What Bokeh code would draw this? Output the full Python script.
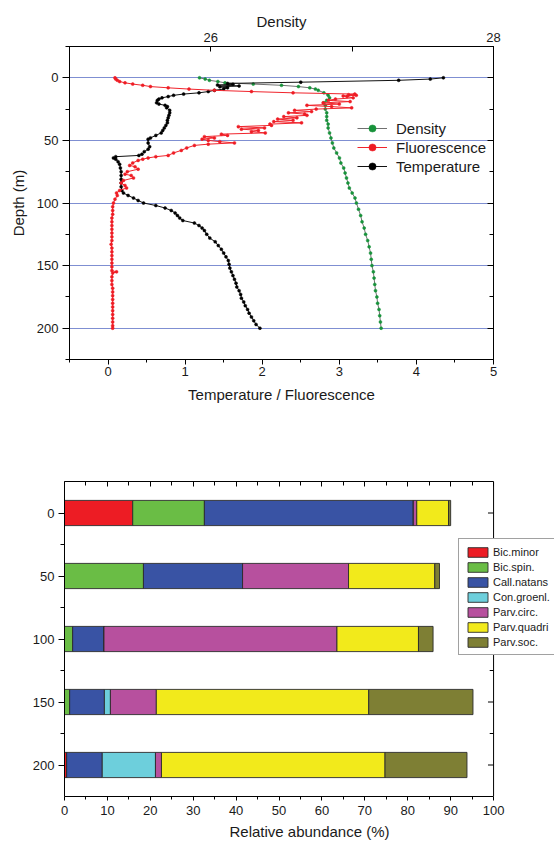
from bokeh.plotting import figure
from bokeh.models import (Range1d, LinearAxis, FixedTicker, Legend, LegendItem, Span,
                          CustomJSTickFormatter, ColumnDataSource)
from bokeh.layouts import column
from bokeh.embed import file_html
from bokeh.resources import INLINE

FONT = "Liberation Sans"
TXT = "#1a1a1a"

# ---------------- top panel data (depth in m) ----------------
dens_depth = [0, 1, 2, 3, 4, 5, 6, 7, 8, 9, 10, 12, 14, 16, 18, 20, 22, 25, 28, 31, 34, 37, 40,
              44, 48, 52, 56, 60, 64, 68, 72, 76, 80, 84, 88, 92, 96, 100, 105, 110, 115, 120,
              125, 130, 135, 140, 145, 150, 155, 160, 165, 170, 175, 180, 185, 190, 195, 200]
dens_val = [25.92, 25.96, 25.99, 26.05, 26.10, 26.30, 26.50, 26.62, 26.70, 26.74, 26.76, 26.80,
            26.83, 26.84, 26.82, 26.80, 26.81, 26.81, 26.82, 26.82, 26.82, 26.83, 26.83,
            26.84, 26.85, 26.86, 26.87, 26.89, 26.91, 26.92, 26.94, 26.95, 26.96, 26.97, 26.98,
            27.00, 27.02, 27.03, 27.045, 27.06, 27.07, 27.085, 27.095, 27.11, 27.12, 27.13,
            27.135, 27.14, 27.15, 27.155, 27.16, 27.165, 27.175, 27.18, 27.19, 27.195, 27.20, 27.205]

temp_depth = [0, 1, 2, 3.5, 4.5, 5.2, 5.8, 6.5, 7.2, 8, 9, 10, 11, 12, 13, 14, 15, 16, 17, 18, 20,
              21, 22, 23, 24, 26, 28, 30, 32, 34, 36, 38, 40, 42, 44, 46, 48, 49, 52, 55, 57, 59,
              61, 62, 63, 64, 65, 67, 69, 72, 75, 78, 81, 84, 87, 90, 92, 94, 96, 98, 100, 102,
              104, 106, 108, 110, 112, 114, 116, 118, 120, 122, 125, 128, 131, 134, 137, 140,
              143, 146, 149, 152, 155, 158, 161, 164, 167, 170, 173, 176, 179, 182, 185, 188,
              191, 194, 197, 200]
temp_val = [4.35, 4.18, 3.77, 2.50, 1.55, 1.62, 1.42, 1.70, 1.45, 1.55, 1.50, 1.38, 1.30, 1.18,
            0.98, 0.85, 0.78, 0.70, 0.66, 0.64, 0.63, 0.66, 0.74, 0.77, 0.76, 0.80, 0.80, 0.79,
            0.78, 0.77, 0.77, 0.75, 0.73, 0.71, 0.69, 0.62, 0.55, 0.52, 0.52, 0.54, 0.52, 0.47,
            0.44, 0.40, 0.10, 0.07, 0.10, 0.13, 0.15, 0.16, 0.17, 0.17, 0.17, 0.17, 0.17, 0.18,
            0.20, 0.26, 0.33, 0.39, 0.46, 0.62, 0.74, 0.82, 0.87, 0.90, 0.93, 0.97, 1.12, 1.18,
            1.22, 1.25, 1.28, 1.32, 1.39, 1.43, 1.47, 1.50, 1.53, 1.56, 1.57, 1.58, 1.60, 1.62,
            1.64, 1.66, 1.67, 1.70, 1.72, 1.73, 1.76, 1.78, 1.81, 1.83, 1.86, 1.89, 1.92, 1.97]

fluo_depth = [0, 1, 2, 3, 4, 5, 6, 7, 8, 9, 10, 11, 12, 13, 13.5, 14, 14.5, 15, 16, 17, 18, 19,
              20, 21, 22, 23, 24, 25, 26, 27, 28, 29, 30, 31, 32, 33, 34, 35, 36, 37, 38, 39, 40,
              41, 42, 43, 44, 45, 46, 47, 48, 49, 50, 51, 52, 53, 54, 56, 58, 60, 62, 63, 64, 65,
              66, 68, 70, 71, 73, 75, 77, 78, 80, 82, 84, 86, 88, 90, 92, 94, 97, 100, 103, 106,
              109, 112, 115, 118, 121, 124, 127, 130, 133, 136, 139, 142, 145, 148, 151, 154,
              155, 156, 159, 162, 165, 168, 171, 174, 177, 180, 183, 186, 189, 192, 195, 198, 200]
fluo_val = [0.09, 0.10, 0.12, 0.15, 0.22, 0.32, 0.45, 0.55, 0.78, 1.05, 1.38, 1.86, 2.40, 3.20,
            3.12, 3.22, 3.05, 3.10, 3.18, 2.95, 2.86, 3.14, 2.79, 3.00, 2.58, 2.90, 3.16, 2.70,
            2.42, 2.64, 2.34, 2.55, 2.58, 2.28, 2.45, 2.20, 2.40, 2.15, 2.51, 2.10, 2.12, 1.69,
            2.03, 1.73, 1.95, 1.86, 2.04, 1.47, 1.55, 1.25, 1.38, 1.22, 1.30, 1.45, 1.64, 1.30,
            1.12, 1.02, 0.95, 0.85, 0.78, 0.62, 0.52, 0.45, 0.39, 0.32, 0.28, 0.35, 0.39, 0.25,
            0.22, 0.30, 0.33, 0.20, 0.17, 0.22, 0.24, 0.15, 0.11, 0.12, 0.09, 0.07, 0.06, 0.06,
            0.06, 0.05, 0.05, 0.05, 0.05, 0.05, 0.05, 0.05, 0.04, 0.05, 0.05, 0.05, 0.05, 0.05,
            0.05, 0.05, 0.11, 0.06, 0.05, 0.05, 0.05, 0.06, 0.06, 0.06, 0.06, 0.06, 0.06, 0.06,
            0.06, 0.06, 0.06, 0.06, 0.06]

depth_ticks = [0, 50, 100, 150, 200]
depth_minor = [-25, 25, 75, 125, 175, 225]
tf_ticks = [0, 1, 2, 3, 4, 5]
tf_minor = [-0.5, 0.5, 1.5, 2.5, 3.5, 4.5]
dens_ticks = [26, 28]
dens_minor = [25, 27]

# ---------------- bottom panel data ----------------
sample_depth = [0, 50, 100, 150, 200]
species = ["Bic.minor", "Bic.spin.", "Call.natans", "Con.groenl.", "Parv.circ.",
           "Parv.quadri", "Parv.soc."]
bic_minor = [15.9, 0.0, 0.0, 0.0, 0.5]
bic_spin = [16.7, 18.4, 1.9, 1.2, 0.0]
call_natans = [48.7, 23.1, 7.3, 8.1, 8.3]
con_groenl = [0.0, 0.0, 0.0, 1.4, 12.4]
parv_circ = [0.8, 24.7, 54.3, 10.7, 1.4]
parv_quadri = [7.4, 20.1, 19.0, 49.5, 52.1]
parv_soc = [0.5, 1.1, 3.4, 24.3, 19.1]
sp_colors = ["#ed1c24", "#6abd45", "#3953a4", "#6dcfdc", "#b7509e", "#f2ea1b", "#7e7f34"]
abund_ticks = [0, 10, 20, 30, 40, 50, 60, 70, 80, 90, 100]
abund_minor = [5, 15, 25, 35, 45, 55, 65, 75, 85, 95]
abund_max = 100


def style_axis(ax, tick_in=0, tick_out=5, minor_in=0, minor_out=3):
    ax.axis_line_color = "black"
    ax.axis_line_width = 1
    ax.major_tick_line_color = "black"
    ax.minor_tick_line_color = "black"
    ax.major_tick_in = tick_in
    ax.major_tick_out = tick_out
    ax.minor_tick_in = minor_in
    ax.minor_tick_out = minor_out
    ax.major_label_text_font = FONT
    ax.major_label_text_font_size = "13px"
    ax.major_label_text_color = TXT
    ax.axis_label_text_font = FONT
    ax.axis_label_text_font_size = "15px"
    ax.axis_label_text_font_style = "normal"
    ax.axis_label_text_color = TXT


blank = CustomJSTickFormatter(code="return ''")

# ================= TOP FIGURE =================
p1 = figure(width=554, height=410, x_range=Range1d(-0.5, 5), y_range=Range1d(225, -25),
            output_backend="svg", toolbar_location=None,
            min_border_left=69, min_border_right=61, min_border_top=46, min_border_bottom=51)
p1.frame_align = False
p1.extra_x_ranges = {"dens": Range1d(25, 28)}
p1.outline_line_color = "black"
p1.background_fill_color = "white"
p1.border_fill_color = "white"

p1.xaxis.axis_label = "Temperature / Fluorescence"
p1.xaxis.ticker = FixedTicker(ticks=tf_ticks, minor_ticks=tf_minor)
style_axis(p1.xaxis[0], 0, 5, 0, 3)
p1.xaxis.major_label_standoff = 2
p1.xaxis.axis_label_standoff = 7

p1.yaxis.axis_label = "Depth (m)"
p1.yaxis.ticker = FixedTicker(ticks=depth_ticks, minor_ticks=depth_minor)
style_axis(p1.yaxis[0], 0, 7, 0, 4)
p1.yaxis.major_label_standoff = 4
p1.yaxis.axis_label_standoff = 7

top_ax = LinearAxis(x_range_name="dens", axis_label="Density",
                    ticker=FixedTicker(ticks=dens_ticks, minor_ticks=dens_minor))
style_axis(top_ax, 5, 0, 5, 0)
top_ax.major_label_standoff = 5
top_ax.axis_label_standoff = 0
p1.add_layout(top_ax, "above")

right_ax = LinearAxis(ticker=FixedTicker(ticks=depth_ticks, minor_ticks=depth_minor),
                      formatter=blank)
style_axis(right_ax, 6, 0, 4, 0)
right_ax.major_label_standoff = 0
p1.add_layout(right_ax, "right")

p1.xgrid.visible = False
p1.ygrid.ticker = FixedTicker(ticks=depth_ticks)
p1.ygrid.grid_line_color = "#7f8fd2"
p1.ygrid.grid_line_width = 1

dl = p1.line(dens_val, dens_depth, x_range_name="dens", line_color="#707070", line_width=1)
ds = p1.scatter(dens_val, dens_depth, x_range_name="dens", size=3, marker="circle",
                fill_color="#17923a", line_color="#17923a", line_width=0.5)
tl = p1.line(temp_val, temp_depth, line_color="#111111", line_width=1)
ts = p1.scatter(temp_val, temp_depth, size=3, marker="circle",
                fill_color="#000000", line_color="#000000", line_width=0.5)
fl = p1.line(fluo_val, fluo_depth, line_color="#f0242c", line_width=1)
fs = p1.scatter(fluo_val, fluo_depth, size=3, marker="circle",
                fill_color="#ee1c24", line_color="#ee1c24", line_width=0.5)

leg1 = Legend(items=[LegendItem(label="Density", renderers=[dl, ds]),
                     LegendItem(label="Fluorescence", renderers=[fl, fs]),
                     LegendItem(label="Temperature", renderers=[tl, ts])],
              location=(288, 184), orientation="vertical",
              label_text_font=FONT, label_text_font_size="15px", label_text_color=TXT,
              glyph_width=30, glyph_height=18, label_height=18, spacing=1,
              padding=0, margin=0, label_standoff=9,
              border_line_color=None, background_fill_alpha=0)
p1.add_layout(leg1)

# ================= BOTTOM FIGURE =================
# frame runs to the right edge so the legend can overhang the x = 100 border like the original
p2 = figure(width=554, height=433, x_range=Range1d(0, 114.2), y_range=Range1d(225, -25),
            output_backend="svg", toolbar_location=None,
            min_border_left=64, min_border_right=0, min_border_top=71, min_border_bottom=47)
p2.frame_align = False
p2.outline_line_color = None
p2.background_fill_color = "white"
p2.border_fill_color = "white"
p2.xgrid.visible = False
p2.ygrid.visible = False

p2.xaxis.axis_label = "Relative abundance (%)"
p2.xaxis.ticker = FixedTicker(ticks=abund_ticks, minor_ticks=abund_minor)
p2.xaxis.bounds = (0, abund_max)
style_axis(p2.xaxis[0], 0, 4, 0, 3)
p2.xaxis.major_label_standoff = 5
p2.xaxis.axis_label_standoff = 5

p2.yaxis.ticker = FixedTicker(ticks=depth_ticks, minor_ticks=[25, 75, 125, 175])
style_axis(p2.yaxis[0], 0, 6, 0, 4)
p2.yaxis.major_label_standoff = 4

top2 = LinearAxis(ticker=FixedTicker(ticks=abund_ticks, minor_ticks=abund_minor),
                  formatter=blank, bounds=(0, abund_max))
style_axis(top2, 5, 0, 4, 0)
top2.major_label_standoff = 0
p2.add_layout(top2, "above")

# right-hand border of the frame at x = 100 with inward ticks
p2.add_layout(Span(location=abund_max, dimension="height", line_color="black", line_width=1))
tick_src = ColumnDataSource(dict(y=depth_ticks, x0=[abund_max] * len(depth_ticks),
                                 x1=[abund_max - 1.3] * len(depth_ticks)))
p2.segment(x0="x0", y0="y", x1="x1", y1="y", source=tick_src, line_color="black", line_width=1)
mtick_src = ColumnDataSource(dict(y=[25, 75, 125, 175], x0=[abund_max] * 4,
                                  x1=[abund_max - 0.9] * 4))
p2.segment(x0="x0", y0="y", x1="x1", y1="y", source=mtick_src, line_color="black", line_width=1)

keys = ["bic_minor", "bic_spin", "call_natans", "con_groenl", "parv_circ", "parv_quadri",
        "parv_soc"]
src = ColumnDataSource(dict(depth=sample_depth, bic_minor=bic_minor, bic_spin=bic_spin,
                            call_natans=call_natans, con_groenl=con_groenl,
                            parv_circ=parv_circ, parv_quadri=parv_quadri, parv_soc=parv_soc))
bars = p2.hbar_stack(keys, y="depth", height=20, fill_color=sp_colors, line_color="#2a2a2a",
                     line_width=0.9, source=src)

leg2 = Legend(items=[LegendItem(label=s, renderers=[r]) for s, r in zip(species, bars)],
              location=(394, 141), orientation="vertical",
              label_text_font=FONT, label_text_font_size="11px", label_text_color=TXT,
              glyph_width=25, glyph_height=12, label_height=13, spacing=2,
              padding=6, margin=0, label_standoff=3,
              border_line_color="#444444", border_line_width=1,
              background_fill_color="white", background_fill_alpha=1)
p2.add_layout(leg2)

layout = column(p1, p2, spacing=0)
open("out.html", "w").write(file_html(layout, INLINE))
